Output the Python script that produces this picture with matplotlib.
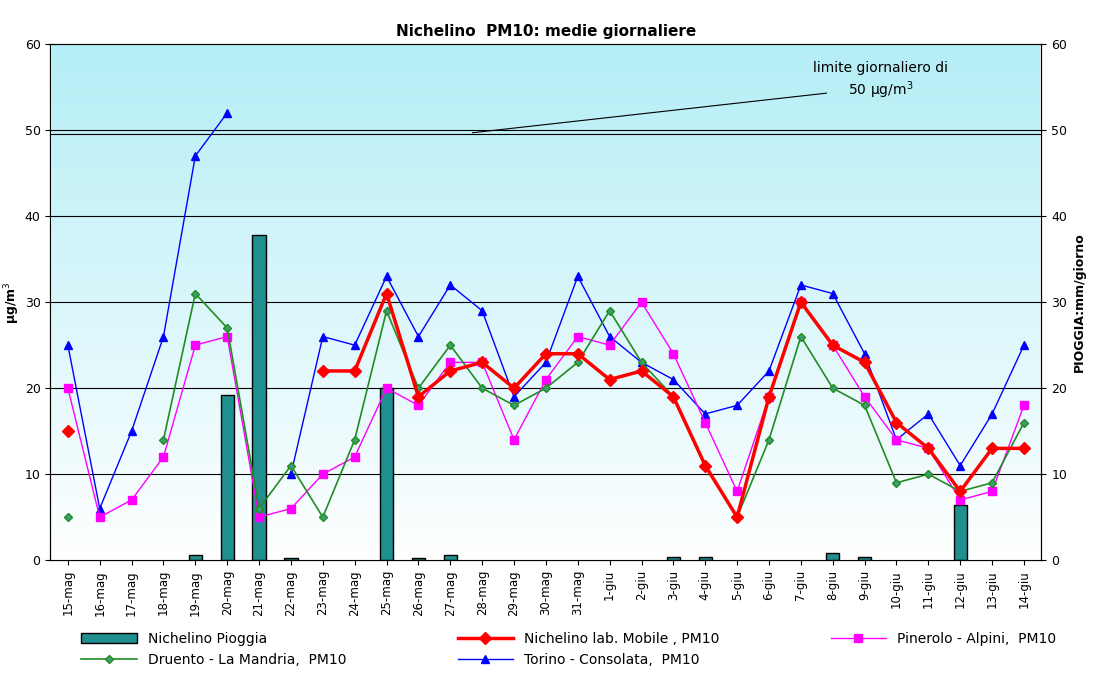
import matplotlib.pyplot as plt
import numpy as np
from matplotlib.colors import LinearSegmentedColormap

nan = np.nan
days = ["15-mag", "16-mag", "17-mag", "18-mag", "19-mag", "20-mag", "21-mag", "22-mag",
        "23-mag", "24-mag", "25-mag", "26-mag", "27-mag", "28-mag", "29-mag", "30-mag",
        "31-mag", "1-giu", "2-giu", "3-giu", "4-giu", "5-giu", "6-giu", "7-giu", "8-giu",
        "9-giu", "10-giu", "11-giu", "12-giu", "13-giu", "14-giu"]
pioggia = [nan, nan, nan, nan, 0.6, 19.2, 37.8, 0.2, nan, nan, 20, 0.2, 0.6, nan, nan,
           nan, nan, nan, nan, 0.4, 0.4, nan, nan, nan, 0.8, 0.4, nan, nan, 6.4, nan, nan]
nichelino = [15, nan, nan, nan, nan, nan, nan, nan, 22, 22, 31, 19, 22, 23, 20, 24, 24,
             21, 22, 19, 11, 5, 19, 30, 25, 23, 16, 13, 8, 13, 13]
pinerolo = [20, 5, 7, 12, 25, 26, 5, 6, 10, 12, 20, 18, 23, 23, 14, 21, 26, 25, 30, 24,
            16, 8, 19, 30, 25, 19, 14, 13, 7, 8, 18]
druento = [5, nan, nan, 14, 31, 27, 6, 11, 5, 14, 29, 20, 25, 20, 18, 20, 23, 29, 23,
           19, 11, 5, 14, 26, 20, 18, 9, 10, 8, 9, 16]
torino = [25, 6, 15, 26, 47, 52, nan, 10, 26, 25, 33, 26, 32, 29, 19, 23, 33, 26, 23,
          21, 17, 18, 22, 32, 31, 24, 14, 17, 11, 17, 25]

x = np.arange(len(days))
fig, ax = plt.subplots(figsize=(10.94, 6.79), dpi=100)
fig.subplots_adjust(left=0.046, right=0.952, top=0.935, bottom=0.175)

# sfondo sfumato
grad = np.linspace(0, 1, 256).reshape(-1, 1)
cmap = LinearSegmentedColormap.from_list("bg", ["#ffffff", "#b4eef6"])
ax.imshow(grad, extent=(-0.5, len(days) - 0.5, 0, 60), aspect="auto",
          cmap=cmap, origin="lower", zorder=0)

for v in [10, 20, 30, 40, 50, 60]:
    ax.axhline(v, color="black", lw=0.8, zorder=1)
ax.axhline(49.6, color="black", lw=0.8, zorder=1)

ax2 = ax.twinx()
ax.set_zorder(ax2.get_zorder() + 1)
ax.patch.set_visible(False)
ax2.set_ylim(0, 60)
ax2.set_yticks(range(0, 61, 10))
ax2.set_ylabel("PIOGGIA:mm/giorno", fontweight="bold", fontsize=9)
ax2.tick_params(labelsize=9)

bars = ax.bar(x, pioggia, width=0.42, color="#1f8f8f", edgecolor="black", lw=1,
              zorder=2)
l_nic, = ax.plot(x, nichelino, color="red", lw=2.5, marker="D", ms=6, zorder=6)
l_pin, = ax.plot(x, pinerolo, color="magenta", lw=1, marker="s", ms=6, zorder=4)
l_dru, = ax.plot(x, druento, color="#228b22", lw=1.2, marker="D", ms=4,
                 markerfacecolor="#3a9e6e", zorder=5)
l_tor, = ax.plot(x, torino, color="blue", lw=1, marker="^", ms=6, zorder=3)

ax.set_xlim(-0.55, len(days) - 0.45)
ax.set_ylim(0, 60)
ax.set_yticks(range(0, 61, 10))
ax.set_xticks(x)
ax.set_xticklabels(days, rotation=90, fontsize=8.5)
ax.tick_params(axis="y", labelsize=9)
ax.set_ylabel("µg/m$^3$", fontweight="bold", fontsize=9, labelpad=2)
ax.set_title("Nichelino  PM10: medie giornaliere", fontweight="bold", fontsize=11)

ax.plot([12.7, 23.8], [49.7, 54.3], color="black", lw=0.8, zorder=7)
ax.text(25.5, 57.2, "limite giornaliero di", ha="center", va="center", fontsize=10)
ax.text(25.5, 54.6, "50 µg/m$^3$", ha="center", va="center", fontsize=10)

handles = [bars, l_dru, l_nic, l_tor, l_pin]
labels = ["Nichelino Pioggia", "Druento - La Mandria,  PM10",
          "Nichelino lab. Mobile , PM10", "Torino - Consolata,  PM10",
          "Pinerolo - Alpini,  PM10"]
fig.legend(handles, labels, loc="lower center", ncol=3, frameon=False, fontsize=10,
           bbox_to_anchor=(0.52, 0.0), columnspacing=8, handlelength=4)
fig.savefig("out.png")
